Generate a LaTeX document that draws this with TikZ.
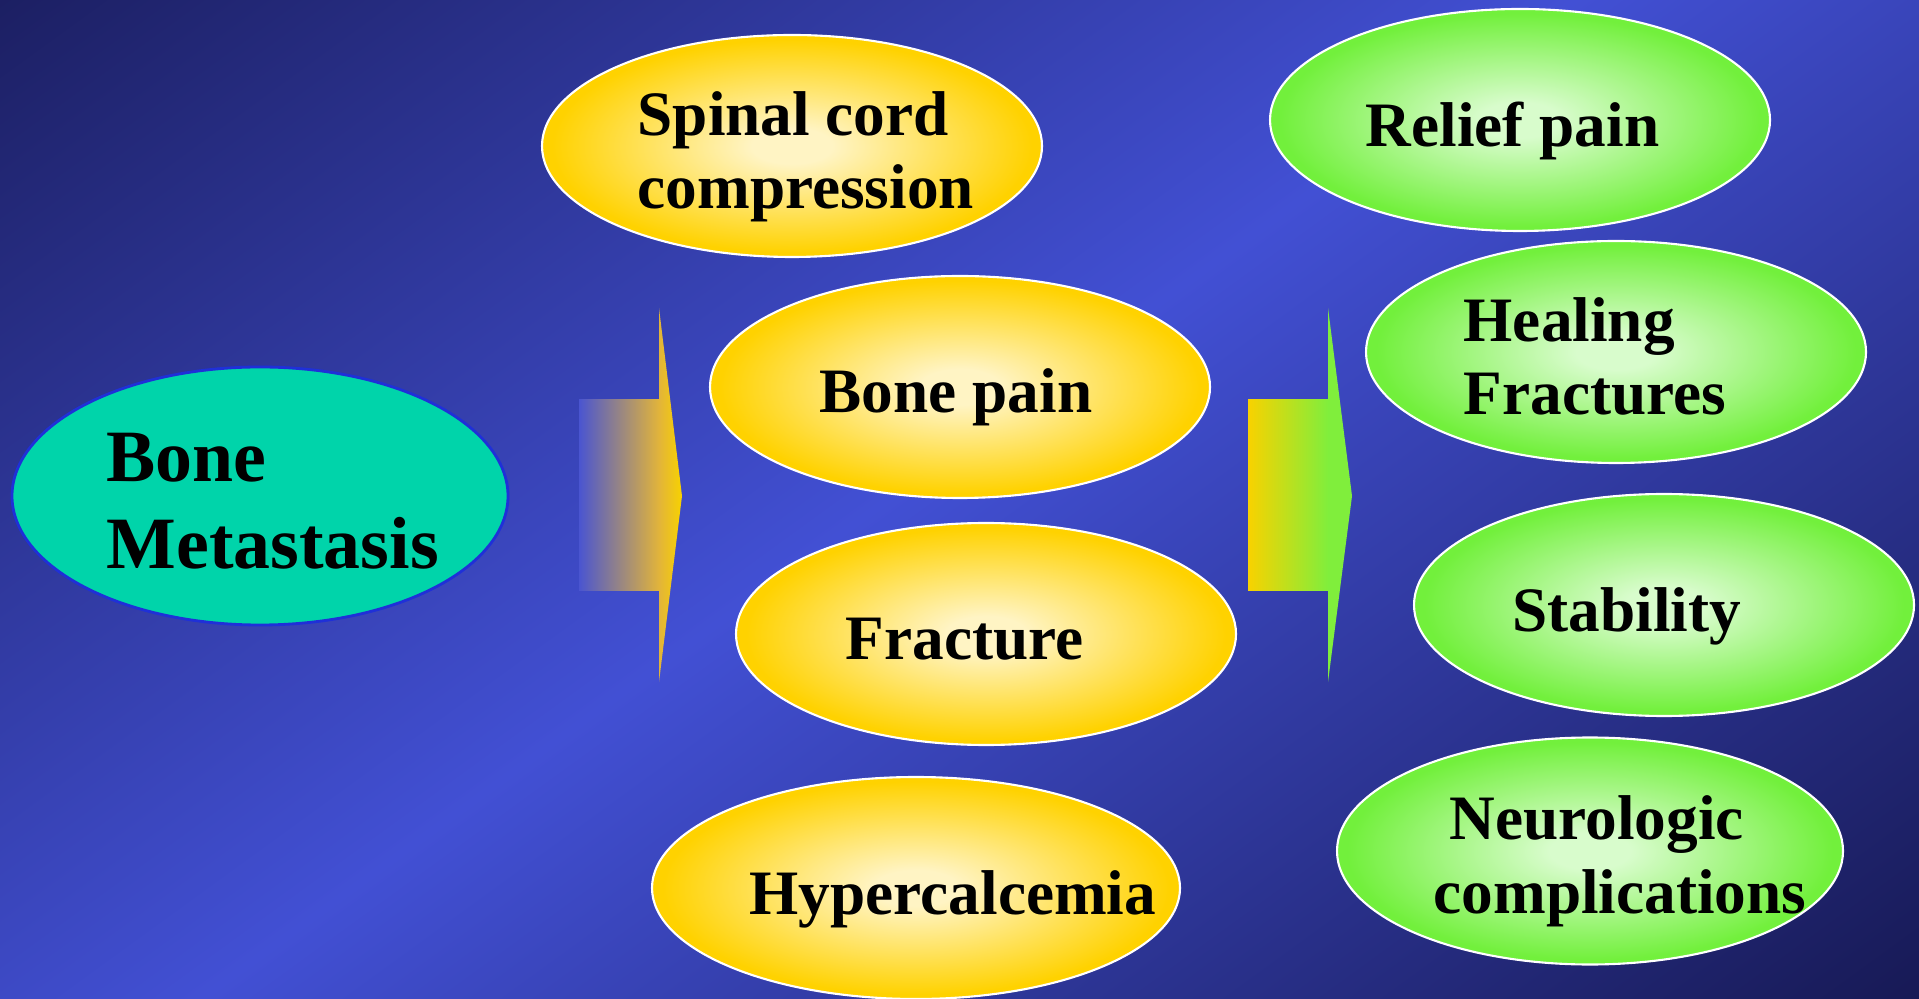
\documentclass[tikz,border=0pt]{standalone}
\usepackage{fontspec}
\setmainfont{Liberation Serif}
\usetikzlibrary{shapes.geometric,positioning}

\definecolor{bgTL}{HTML}{1B1E60}
\definecolor{bgMid}{HTML}{4250D4}
\definecolor{bgBR}{HTML}{161852}
\definecolor{tealfill}{HTML}{00D4AA}
\definecolor{tealline}{HTML}{1F30D8}
\definecolor{glowY}{HTML}{FFF4C4}
\definecolor{goldY}{HTML}{FFD200}
\definecolor{glowG}{HTML}{D8FCCC}
\definecolor{leafG}{HTML}{72F03C}
\definecolor{arrowgold}{HTML}{E2B43A}
\definecolor{arrowyellow}{HTML}{F8D200}
\definecolor{arrowgreen}{HTML}{80EE3C}
\definecolor{shaftblue}{HTML}{4A55D0}

\pgfdeclareverticalshading{slidebg}{100bp}{color(0bp)=(bgBR); color(27bp)=(bgBR); color(51bp)=(bgMid); color(73bp)=(bgTL); color(100bp)=(bgTL)}
\pgfdeclareradialshading{yellowglow}{\pgfpoint{0bp}{0bp}}{color(0bp)=(glowY); color(4bp)=(glowY); color(24bp)=(goldY); color(50bp)=(goldY)}
\pgfdeclareradialshading{greenglow}{\pgfpoint{0bp}{0bp}}{color(0bp)=(glowG); color(4bp)=(glowG); color(24bp)=(leafG); color(50bp)=(leafG)}

\begin{document}
\begin{tikzpicture}[x=0.1mm, y=-0.1mm,
  blob/.style = {ellipse, inner sep=0pt, draw=white, line width=0.6pt},
  yellowblob/.style = {blob, shading=yellowglow, minimum width=50mm, minimum height=22.2mm},
  greenblob/.style = {blob, shading=greenglow, minimum width=50mm, minimum height=22.2mm},
  lbl/.style = {anchor=base west, inner sep=0pt, align=left, font=\fontsize{18}{21}\selectfont\bfseries}]
\useasboundingbox (0,0) rectangle (1919,999);
% background
\begin{scope}
\clip (0,0) rectangle (1919,999);
\shade[shading=slidebg, shading angle=36] (-115,-575) rectangle (2035,1575);
\end{scope}
% left side
\node[ellipse, inner sep=0pt, fill=tealfill, draw=tealline, line width=0.8pt, minimum width=49.6mm, minimum height=25.8mm] (bm) at (260,496) {};
\node[lbl, font=\fontsize{21}{25}\selectfont\bfseries] (bmtext) at (106,569) {Bone\\Metastasis};
% first arrow
\shade[left color=shaftblue, right color=arrowgold] (579,400) rectangle (659,591);
\shade[left color=arrowgold, right color=arrowyellow] (659,308) -- (682,496) -- (659,682) -- cycle;
% symptoms
\node[yellowblob] (spinal) at (792,146) {};
\node[yellowblob] (bonepain) at (960,387) {};
\node[yellowblob] (fracture) at (986,634) {};
\node[yellowblob, minimum width=52.8mm] (hyper) at (916,888) {};
\node[lbl] (spinaltext) at (637,209) {Spinal cord\\compression};
\node[lbl] (bonepaintext) at (819,413) {Bone pain};
\node[lbl] (fracturetext) at (845,659) {Fracture};
\node[lbl] (hypertext) at (749,914) {Hypercalcemia};
% second arrow
\shade[left color=arrowyellow, right color=arrowgreen] (1248,400) rectangle (1328,591);
\fill[arrowgreen] (1328,308) -- (1352,496) -- (1328,682) -- cycle;
% goals
\node[greenblob] (relief) at (1520,120) {};
\node[greenblob] (healing) at (1616,352) {};
\node[greenblob] (stability) at (1664,605) {};
\node[greenblob, minimum width=50.6mm, minimum height=22.7mm] (neuro) at (1590,851) {};
\node[lbl] (relieftext) at (1365,147) {Relief pain};
\node[lbl] (healingtext) at (1463,415) {Healing\\Fractures};
\node[lbl] (stabilitytext) at (1512,632) {Stability};
\node[lbl] (neurotext) at (1433,913) {\hspace*{1.6mm}Neurologic\\complications};
\end{tikzpicture}
\end{document}
